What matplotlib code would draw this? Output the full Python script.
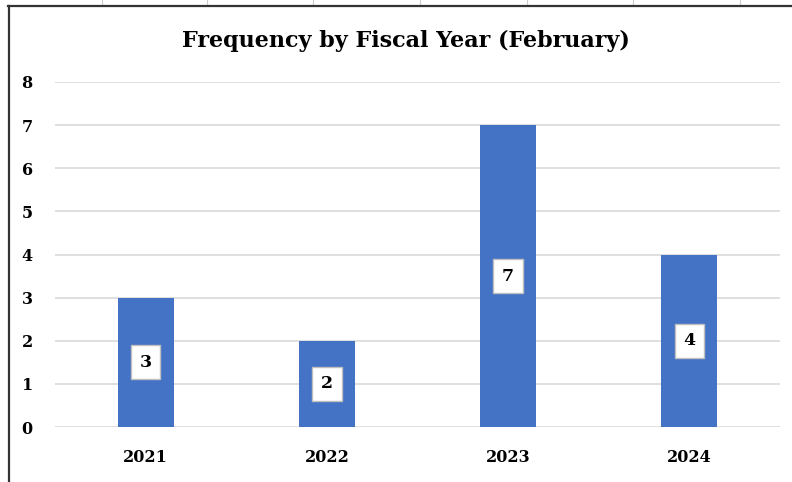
import matplotlib
matplotlib.use("Agg")
import matplotlib.pyplot as plt
from matplotlib.lines import Line2D

categories = ["2021", "2022", "2023", "2024"]
values = [3, 2, 7, 4]
yticks = [0, 1, 2, 3, 4, 5, 6, 7, 8]
title = "Frequency by Fiscal Year (February)"

plt.rcParams['font.family'] = ['DejaVu Serif']

fig = plt.figure(figsize=(7.92, 4.82), dpi=100)
W, H = 792, 482
ax = fig.add_axes([55 / W, 1 - 427 / H, (780 - 55) / W, (427 - 82) / H])

x = list(range(len(categories)))
bars = ax.bar(x, values, width=0.31, color="#4472C4", zorder=3)
ax.set_xlim(-0.5, len(categories) - 0.5)
ax.set_ylim(0, 8)
ax.set_yticks(yticks)
ax.set_yticklabels([str(t) for t in yticks], fontsize=11.5, fontweight='bold')
ax.set_xticks(x)
ax.set_xticklabels(categories, fontsize=11.5, fontweight='bold')
ax.tick_params(axis='both', length=0)
ax.tick_params(axis='y', pad=16)
ax.tick_params(axis='x', pad=16)
ax.grid(axis='y', color="#d9d9d9", linewidth=1.2, zorder=0)
for s in ax.spines.values():
    s.set_visible(False)

for xi, v in zip(x, values):
    ax.text(xi, v / 2, str(v), ha='center', va='center', fontsize=12.5, fontweight='bold',
            zorder=5,
            bbox=dict(boxstyle='square,pad=0.5', facecolor='white', edgecolor='#bfbfbf', linewidth=1))

fig.text(406 / W, 1 - 41 / H, title, ha='center', va='center', fontsize=16, fontweight='bold')

# surrounding sheet lines and frame
for px in [102, 207, 313, 420, 527, 633, 740]:
    fig.add_artist(Line2D([px / W, px / W], [1 - 5 / H, 1.0], color="#cccccc", linewidth=0.8))
fig.add_artist(Line2D([8 / W, 1.0], [1 - 5.5 / H, 1 - 5.5 / H], color="#333333", linewidth=1.6))
fig.add_artist(Line2D([8.5 / W, 8.5 / W], [0, 1 - 5.5 / H], color="#333333", linewidth=1.6))

fig.savefig("out.png", dpi=100)
